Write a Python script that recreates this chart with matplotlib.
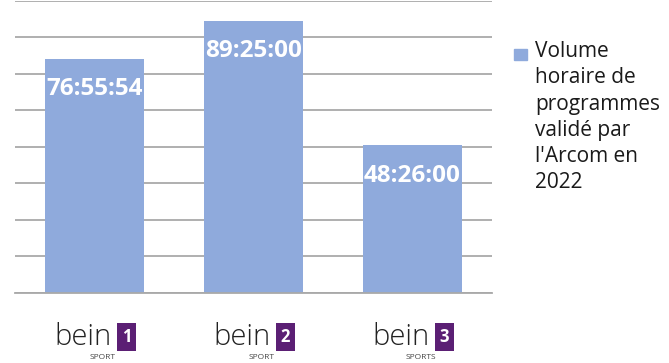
import matplotlib.pyplot as plt
from matplotlib.patches import Rectangle

# durée validée par chaîne (hh:mm:ss)
channels = ["1", "2", "3"]
sub_labels = ["SPORT", "SPORT", "SPORTS"]
durations = ["76:55:54", "89:25:00", "48:26:00"]
legend_label = "Volume\nhoraire de\nprogrammes\nvalidé par\nl'Arcom en\n2022"


def to_hours(s):
    h, m, sec = (int(p) for p in s.split(":"))
    return h + m / 60 + sec / 3600


hours = [to_hours(d) for d in durations]

bar_color = "#8faadc"
grid_color = "#a9a9a9"
logo_purple = "#5b1f74"

plt.rcParams["font.family"] = ["Open Sans", "DejaVu Sans"]

fig = plt.figure(figsize=(6.69, 3.63), dpi=100)
ax = fig.add_axes([15 / 669, 70 / 363, 477 / 669, 292.5 / 363])

x = list(range(len(channels)))
ax.bar(x, hours, width=0.62, color=bar_color, zorder=2)

ax.set_xlim(-0.5, 2.5)
ax.set_ylim(0, 96)
ax.set_yticks(range(0, 97, 12))
ax.yaxis.grid(True, color=grid_color, linewidth=1.3, zorder=0)
ax.tick_params(left=False, bottom=False, labelleft=False, labelbottom=False)
for side in ["top", "right", "left"]:
    ax.spines[side].set_visible(False)
ax.spines["bottom"].set_color(grid_color)
ax.spines["bottom"].set_linewidth(1.3)

# valeurs dans les barres
for xi, h, lab in zip(x, hours, durations):
    ax.annotate(lab, (xi, h), xytext=(0, -22), textcoords="offset points",
                ha="center", va="center", color="white", fontsize=17.5,
                fontweight="bold", zorder=3)

# logos approximés en texte
for xi, num, sub in zip(x, channels, sub_labels):
    ax.annotate("bein", (xi, 0), xycoords=("data", "axes fraction"),
                xytext=(12, -32), textcoords="offset points",
                ha="right", va="center", fontsize=21, color="#222222",
                fontweight="light", annotation_clip=False)
    ax.annotate(num, (xi, 0), xycoords=("data", "axes fraction"),
                xytext=(23, -32), textcoords="offset points",
                ha="center", va="center", fontsize=12, color="white",
                fontweight="bold", annotation_clip=False,
                bbox=dict(boxstyle="square,pad=0.3", fc=logo_purple, ec="none"))
    ax.annotate(sub, (xi, 0), xycoords=("data", "axes fraction"),
                xytext=(6, -46.5), textcoords="offset points",
                ha="center", va="center", fontsize=6, color="#444444",
                annotation_clip=False)

# légende
fig.patches.append(Rectangle((514 / 669, 1 - 60 / 363), 13 / 669, 11 / 363,
                             transform=fig.transFigure, color=bar_color))
fig.text(535 / 669, 1 - 41 / 363, legend_label, ha="left", va="top",
         fontsize=15, linespacing=1.33, color="#1a1a1a")

fig.savefig("out.png", dpi=100)
